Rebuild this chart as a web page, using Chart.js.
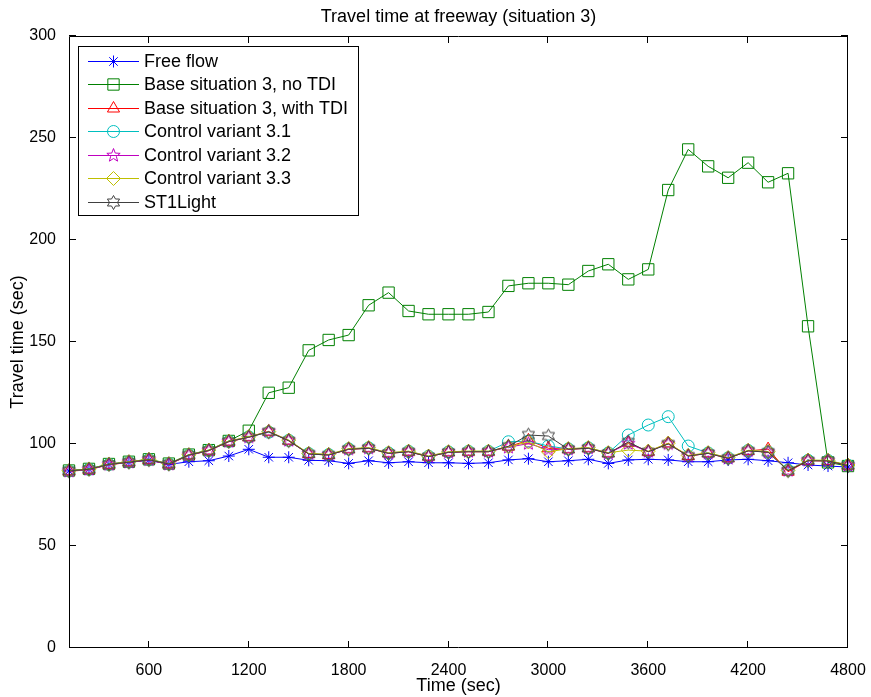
<!DOCTYPE html>
<html>
<head>
<meta charset="utf-8">
<title>Travel time at freeway (situation 3)</title>
<script src="https://cdn.jsdelivr.net/npm/chart.js@4.4.1/dist/chart.umd.min.js"></script>
<style>
	html, body { margin: 0; padding: 0; background: #fff; }
	#chart { display: block; }
</style>
</head>
<body>
<canvas id="chart" width="871" height="697"></canvas>
<script>
'use strict';

// sample times (sec)
const times = [120, 240, 360, 480, 600, 720, 840, 960, 1080, 1200,
	1320, 1440, 1560, 1680, 1800, 1920, 2040, 2160, 2280, 2400,
	2520, 2640, 2760, 2880, 3000, 3120, 3240, 3360, 3480, 3600,
	3720, 3840, 3960, 4080, 4200, 4320, 4440, 4560, 4680, 4800];

// travel times (sec)
const freeFlow = [86.8, 87.6, 90.0, 91.0, 92.0, 90.0, 91.3, 91.8, 94.1, 97.4,
	93.5, 93.5, 92.0, 91.8, 90.5, 91.8, 90.8, 91.3, 90.8, 90.8,
	90.5, 90.8, 92.2, 92.8, 91.3, 91.8, 92.5, 90.5, 92.2, 92.5,
	92.2, 91.3, 91.3, 92.2, 92.5, 91.8, 90.8, 89.7, 89.2, 88.7];
const baseNoTdi = [87.0, 87.8, 90.2, 91.3, 92.5, 90.4, 94.8, 97.0, 101.5, 106.5,
	125.1, 127.6, 145.9, 151.0, 153.4, 168.0, 174.2, 165.2, 163.6, 163.6,
	163.6, 164.7, 177.5, 178.8, 178.8, 178.1, 184.8, 188.1, 180.7, 185.6,
	224.5, 244.4, 236.1, 230.5, 237.9, 228.3, 232.7, 157.7, 91.0, 89.2];
const baseTdi = [86.6, 87.4, 89.8, 91.0, 92.2, 90.0, 94.4, 96.7, 101.1, 103.3,
	106.0, 101.6, 95.1, 94.6, 97.4, 97.9, 95.4, 96.2, 93.8, 95.9,
	96.2, 96.2, 98.7, 101.8, 97.9, 97.4, 97.9, 95.4, 100.6, 96.2,
	100.3, 94.1, 95.4, 93.0, 96.6, 97.5, 86.4, 91.8, 91.7, 89.4];
const control31 = [86.8, 87.6, 90.0, 91.2, 92.4, 90.2, 94.6, 96.9, 101.3, 103.5,
	105.8, 101.8, 95.3, 94.8, 97.6, 98.1, 95.6, 96.4, 94.0, 96.1,
	96.4, 96.4, 101.1, 101.4, 99.0, 97.6, 98.1, 95.6, 104.4, 109.3,
	113.4, 99.0, 95.6, 93.2, 96.8, 96.1, 87.2, 92.0, 91.9, 89.6];
const control32 = [86.7, 87.5, 89.9, 91.1, 92.3, 90.1, 94.5, 96.8, 101.2, 103.4,
	106.2, 101.7, 95.2, 94.7, 97.5, 98.0, 95.5, 96.3, 93.9, 96.0,
	96.3, 96.3, 98.4, 100.2, 97.2, 97.5, 98.0, 95.5, 100.2, 96.3,
	100.1, 94.2, 95.5, 93.1, 96.7, 96.0, 87.0, 91.9, 91.8, 89.5];
const control33 = [86.9, 87.7, 90.1, 91.3, 92.5, 90.3, 94.7, 97.0, 101.4, 103.6,
	106.1, 101.9, 95.4, 94.9, 97.7, 98.2, 95.7, 96.5, 94.1, 96.2,
	96.5, 96.5, 98.6, 101.0, 96.2, 97.7, 98.2, 95.7, 97.0, 96.5,
	100.4, 94.4, 95.7, 93.3, 96.9, 96.3, 87.1, 92.1, 92.0, 89.7];
const st1Light = [86.8, 87.6, 90.0, 91.1, 92.3, 90.2, 94.6, 96.8, 101.2, 103.3,
	106.0, 101.6, 95.1, 94.6, 97.4, 97.9, 95.4, 96.2, 93.8, 95.9,
	96.2, 96.2, 98.9, 104.4, 103.9, 97.4, 97.9, 95.4, 101.0, 96.2,
	100.0, 94.1, 95.4, 93.0, 96.6, 96.0, 86.9, 91.8, 91.7, 89.4];

const seriesNames = ["Free flow", "Base situation 3, no TDI", "Base situation 3, with TDI",
	"Control variant 3.1", "Control variant 3.2", "Control variant 3.3", "ST1Light"];
const xTickValues = [600, 1200, 1800, 2400, 3000, 3600, 4200, 4800];
const yTickValues = [0, 50, 100, 150, 200, 250, 300];

const FONT = "'Liberation Sans', Arial, sans-serif";

// star shaped markers that chart.js has no style for
const starMarker = (points, outer, inner, color) => {
	let c = document.createElement("canvas"),
		size = outer * 2 + 3;
	c.width = size;
	c.height = size;
	let g = c.getContext("2d");
	g.strokeStyle = color;
	g.lineWidth = 1;
	g.beginPath();
	for (let i = 0; i < points * 2; i++) {
		let r = i % 2 === 0 ? outer : inner,
			a = -Math.PI / 2 + i * Math.PI / points;
		g.lineTo(size / 2 + r * Math.cos(a), size / 2 + r * Math.sin(a));
	}
	g.closePath();
	g.stroke();
	return c;
};

const styles = [
	{color: "rgb(0,0,255)", point: "star", r: 6},
	{color: "rgb(0,128,0)", point: "rect", r: 8},
	{color: "rgb(255,0,0)", point: "triangle", r: 7},
	{color: "rgb(0,191,191)", point: "circle", r: 6},
	{color: "rgb(191,0,191)", point: starMarker(5, 7, 3, "rgb(191,0,191)"), r: 6},
	{color: "rgb(191,191,0)", point: "rectRot", r: 7},
	{color: "rgb(64,64,64)", point: starMarker(6, 7, 4, "rgb(64,64,64)"), r: 6}
];
const seriesData = [freeFlow, baseNoTdi, baseTdi, control31, control32, control33, st1Light];

//------- [ PLUGINS ] --------
// matlab style box with inward ticks on all four sides
const axesBox = {
	id: "axesBox",
	afterDatasetsDraw(chart) {
		let {ctx, chartArea: a, scales: {x, y}} = chart,
			len = 7;
		ctx.save();
		ctx.strokeStyle = "#000";
		ctx.lineWidth = 1;
		ctx.beginPath();
		ctx.rect(a.left + 0.5, a.top + 0.5, a.right - a.left - 1, a.bottom - a.top - 1);
		x.ticks.forEach(t => {
			let px = Math.round(x.getPixelForValue(t.value)) - 0.5;
			ctx.moveTo(px, a.bottom);
			ctx.lineTo(px, a.bottom - len);
			ctx.moveTo(px, a.top);
			ctx.lineTo(px, a.top + len);
		});
		y.ticks.forEach(t => {
			let py = Math.round(y.getPixelForValue(t.value)) - 0.5;
			ctx.moveTo(a.left, py);
			ctx.lineTo(a.left + len, py);
			ctx.moveTo(a.right, py);
			ctx.lineTo(a.right - len, py);
		});
		ctx.stroke();
		ctx.restore();
	}
};

// legend inside the axes, line sample with the marker in the middle
const boxLegend = {
	id: "boxLegend",
	afterDraw(chart) {
		let ctx = chart.ctx,
			left = 78, top = 46, w = 280, h = 169,
			rowY = 61, rowStep = 23.45;
		ctx.save();
		ctx.fillStyle = "#fff";
		ctx.fillRect(left, top, w, h);
		ctx.strokeStyle = "#000";
		ctx.lineWidth = 1;
		ctx.strokeRect(left + 0.5, top + 0.5, w, h);
		chart.data.datasets.forEach((ds, i) => {
			let yy = Math.round(rowY + i * rowStep) + 0.5;
			ctx.strokeStyle = ds.borderColor;
			ctx.lineWidth = 1;
			ctx.beginPath();
			ctx.moveTo(88, yy);
			ctx.lineTo(139, yy);
			ctx.stroke();
			ctx.fillStyle = "rgba(0,0,0,0)";
			Chart.helpers.drawPoint(ctx, {pointStyle: ds.pointStyle, radius: ds.pointRadius, borderWidth: 1, rotation: 0}, 113.5, yy);
			ctx.fillStyle = "#000";
			ctx.font = "18px " + FONT;
			ctx.textBaseline = "middle";
			ctx.fillText(ds.label, 144, yy + 1);
		});
		ctx.restore();
	}
};

//------- [ CHART ] --------
Chart.defaults.font.family = FONT;
Chart.defaults.font.size = 16;
Chart.defaults.color = "#000";

const load = () => {
	let datasets = seriesData.map((vals, i) => ({
		label: seriesNames[i],
		data: vals.map((v, k) => ({x: times[k], y: v})),
		borderColor: styles[i].color,
		backgroundColor: styles[i].color,
		borderWidth: 1,
		pointStyle: styles[i].point,
		pointRadius: styles[i].r,
		pointBorderWidth: 1,
		pointBorderColor: styles[i].color,
		pointBackgroundColor: "rgba(0,0,0,0)",
		tension: 0,
		clip: false,
		order: seriesData.length - i
	}));

	new Chart(document.getElementById("chart").getContext("2d"), {
		type: "line",
		data: {datasets: datasets},
		options: {
			responsive: false,
			animation: false,
			devicePixelRatio: 1,
			layout: {padding: {left: 0, right: 23, top: 0, bottom: 0}},
			plugins: {
				legend: {display: false},
				tooltip: {enabled: false},
				title: {
					display: true,
					fullSize: false,
					text: "Travel time at freeway (situation 3)",
					font: {size: 18, weight: "normal"},
					padding: {top: 6, bottom: 8.4}
				}
			},
			scales: {
				x: {
					type: "linear",
					min: 120,
					max: 4800,
					afterBuildTicks: s => { s.ticks = xTickValues.map(v => ({value: v})); },
					afterFit: s => { s.height = 49; },
					grid: {display: false},
					border: {display: false},
					ticks: {padding: 5, maxRotation: 0, autoSkip: false, callback: v => String(v)},
					title: {display: true, text: "Time (sec)", font: {size: 18}, padding: {top: 0, bottom: 0}}
				},
				y: {
					type: "linear",
					min: 0,
					max: 300,
					afterBuildTicks: s => { s.ticks = yTickValues.map(v => ({value: v})); },
					afterFit: s => { s.width = 69; },
					grid: {display: false},
					border: {display: false},
					ticks: {padding: 5, callback: v => String(v)},
					title: {display: true, text: "Travel time (sec)", font: {size: 18}, padding: {top: 7, bottom: 0}}
				}
			}
		},
		plugins: [axesBox, boxLegend]
	});
};
window.addEventListener("load", () => load());
</script>
</body>
</html>
